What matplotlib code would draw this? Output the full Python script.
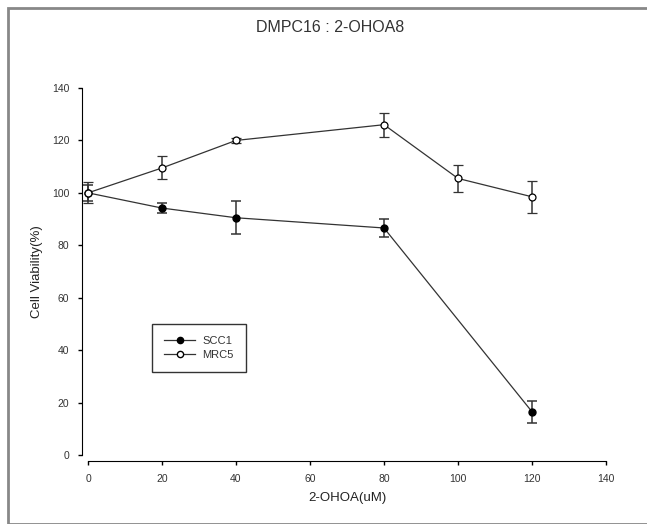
import matplotlib
matplotlib.use("Agg")
import matplotlib.pyplot as plt
from matplotlib.patches import Rectangle
from matplotlib.lines import Line2D

plt.rcParams['font.family'] = ['Liberation Sans', 'DejaVu Sans']

# SCC1 (filled markers)
scc1_x = [0, 20, 40, 80, 120]
scc1_y = [100, 94.2, 90.5, 86.6, 16.5]
scc1_err = [3, 2, 6.3, 3.4, 4.2]

# MRC5 (open markers)
mrc5_x = [0, 20, 40, 80, 100, 120]
mrc5_y = [100, 109.5, 120, 126, 105.5, 98.5]
mrc5_err = [4, 4.4, 1, 4.6, 5.3, 6]

x_ticks = [0, 20, 40, 60, 80, 100, 120, 140]
y_ticks = [0, 20, 40, 60, 80, 100, 120, 140]

W, H = 647, 524
fig = plt.figure(figsize=(W / 100, H / 100), dpi=100)
fig.patches.append(Rectangle((8 / W, 0), 1, 1 - 8 / H, transform=fig.transFigure,
                             fill=False, edgecolor='#888888', linewidth=2.0))

ax = fig.add_axes([88 / W, (H - 455) / H, (606 - 88) / W, (455 - 88) / H])
ax.set_xlim(0, 140)
ax.set_ylim(0, 140)

c = '#333333'
ax.errorbar(scc1_x, scc1_y, yerr=scc1_err, color=c, lw=0.9, marker='o', ms=5,
            mfc='black', mec='black', capsize=3.5, elinewidth=1.1, capthick=1.1,
            clip_on=False)
ax.errorbar(mrc5_x, mrc5_y, yerr=mrc5_err, color=c, lw=0.9, marker='o', ms=5,
            mfc='white', mec='black', mew=0.9, capsize=3.5, elinewidth=1.1, capthick=1.1,
            clip_on=False)

for s in ['top', 'right']:
    ax.spines[s].set_visible(False)
ax.spines['left'].set_position(('outward', 4.5))
ax.spines['bottom'].set_position(('outward', 4.5))
ax.spines['left'].set_bounds(0, 140)
ax.spines['bottom'].set_bounds(0, 140)
ax.set_xticks(x_ticks)
ax.set_yticks(y_ticks)
ax.tick_params(direction='out', length=3, width=1, labelsize=7.5, labelcolor='#333333',
               colors='black', pad=6)

ax.set_xlabel('2-OHOA(uM)', fontsize=9.5, labelpad=6, color='#222222')
ax.set_ylabel('Cell Viability(%)', fontsize=9.5, labelpad=6, color='#222222')
fig.text(330 / W, 1 - 28 / H, 'DMPC16 : 2-OHOA8', ha='center', va='center', fontsize=11.5, color='#333333')

handles = [Line2D([], [], color=c, lw=0.9, marker='o', ms=4.5, mfc='black', mec='black'),
           Line2D([], [], color=c, lw=0.9, marker='o', ms=4.5, mfc='white', mec='black')]
leg = ax.legend(handles, ['SCC1', 'MRC5'], loc='upper left',
                bbox_to_anchor=((152 - 88) / (606 - 88), (455 - 324) / (455 - 88)),
                fontsize=8, frameon=True, fancybox=False, edgecolor='black', borderpad=1.1,
                handlelength=2.8, labelspacing=0.3, borderaxespad=0, handletextpad=0.6)
leg.get_frame().set_linewidth(1.0)
for t in leg.get_texts():
    t.set_color('#333333')

fig.savefig('out.png', dpi=100)
